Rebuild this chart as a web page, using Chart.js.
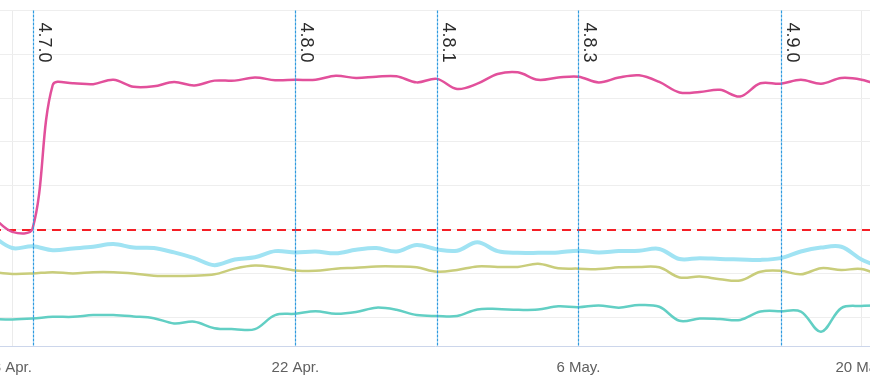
<!DOCTYPE html>
<html>
<head>
<meta charset="utf-8">
<script src="https://cdn.jsdelivr.net/npm/chart.js@4/dist/chart.umd.min.js"></script>
<style>
  html, body { margin: 0; padding: 0; background: #fff; overflow: hidden; }
  #wrap { position: absolute; left: -65px; top: 0; width: 1000px; height: 391px; }
</style>
</head>
<body>
<div id="wrap"><canvas id="chart"></canvas></div>
<script>
// dates (month-day), one point per day
const dates = [
  '04-07','04-08','04-09','04-10','04-11','04-12','04-13','04-14','04-15','04-16',
  '04-17','04-18','04-19','04-20','04-21','04-22','04-23','04-24','04-25','04-26',
  '04-27','04-28','04-29','04-30','05-01','05-02','05-03','05-04','05-05','05-06',
  '05-07','05-08','05-09','05-10','05-11','05-12','05-13','05-14','05-15','05-16',
  '05-17','05-18','05-19','05-20','05-21'
];

const pinkValues = [33.0, 29.5, 30.2, 63.0, 63.4, 63.2, 64.2, 62.6, 62.7, 63.7,
  62.9, 64.0, 64.0, 64.7, 64.1, 64.2, 64.2, 65.1, 64.6, 64.9,
  65.0, 63.6, 64.4, 62.1, 63.3, 65.5, 65.9, 64.2, 64.7, 64.9,
  63.6, 64.7, 65.2, 63.7, 61.3, 61.4, 61.9, 60.4, 63.4, 63.3,
  64.2, 63.3, 64.6, 64.2, 62.8];

const skyValues = [28.6, 25.8, 26.2, 25.3, 25.7, 26.1, 26.7, 25.9, 25.8, 24.8,
  23.5, 21.9, 23.2, 23.7, 25.1, 24.8, 25.0, 24.6, 25.4, 25.8,
  25.0, 26.5, 25.5, 25.2, 27.1, 25.1, 24.7, 24.7, 24.8, 25.2,
  24.8, 25.1, 25.2, 25.6, 23.3, 23.5, 23.3, 23.2, 23.1, 23.5,
  25.0, 25.9, 26.1, 23.2, 21.3];

const oliveValues = [20.3, 19.9, 20.0, 20.3, 20.0, 20.3, 20.3, 20.0, 19.5, 19.4,
  19.5, 19.8, 21.1, 21.8, 21.4, 20.7, 20.6, 21.1, 21.3, 21.6,
  21.6, 21.4, 20.4, 20.8, 21.6, 21.5, 21.5, 22.2, 21.2, 21.1,
  21.0, 21.4, 21.5, 21.4, 19.1, 19.3, 18.7, 18.4, 20.4, 20.6,
  19.8, 21.2, 20.8, 21.0, 19.4];

const tealValues = [9.6, 9.5, 9.7, 10.1, 10.1, 10.5, 10.5, 10.2, 9.8, 8.6,
  9.0, 7.5, 7.3, 7.3, 10.5, 10.8, 11.4, 10.8, 11.2, 12.2,
  11.7, 10.5, 10.3, 10.3, 11.8, 11.9, 11.7, 11.8, 12.5, 12.3,
  12.7, 12.2, 12.8, 12.4, 9.2, 9.7, 9.6, 9.4, 11.3, 11.4,
  11.3, 6.7, 12.1, 12.6, 12.7];

const threshold = 30;

// x axis ticks
const tickDates = ['04-08', '04-22', '05-06', '05-20'];
const tickLabels = ['8 Apr.', '22 Apr.', '6 May.', '20 May.'];

// release markers
const releaseDates = ['04-09', '04-22', '04-29', '05-06', '05-16'];
const releaseLabels = ['4.7.0', '4.8.0', '4.8.1', '4.8.3', '4.9.0'];

// day offset from 8 Apr
function dayOf(md) {
  const [m, d] = md.split('-').map(Number);
  return (Date.UTC(2019, m - 1, d) - Date.UTC(2019, 3, 8)) / 86400000;
}

const days = dates.map(dayOf);
const toPoints = vals => vals.map((v, i) => ({ x: days[i], y: v }));

const FONT = "'Liberation Sans', Arial, Helvetica, sans-serif";

const markersPlugin = {
  id: 'markers',
  beforeDatasetsDraw(chart) {
    const { ctx, chartArea, scales: { y } } = chart;
    const yy = Math.round(y.getPixelForValue(threshold));
    ctx.save();
    ctx.strokeStyle = '#f51f26';
    ctx.lineWidth = 2;
    ctx.setLineDash([9, 6]);
    ctx.lineDashOffset = 15 - ((72 - chartArea.left) % 15);
    ctx.beginPath();
    ctx.moveTo(chartArea.left, yy);
    ctx.lineTo(chartArea.right, yy);
    ctx.stroke();
    ctx.restore();
  },
  afterDatasetsDraw(chart) {
    const { ctx, chartArea, scales: { x } } = chart;
    ctx.save();
    releaseDates.forEach((md, i) => {
      const px = Math.round(x.getPixelForValue(dayOf(md))) + 0.5;
      ctx.strokeStyle = '#2f9be0';
      ctx.lineWidth = 1.2;
      ctx.setLineDash([3, 1]);
      ctx.beginPath();
      ctx.moveTo(px, chartArea.top);
      ctx.lineTo(px, chartArea.bottom);
      ctx.stroke();

      ctx.save();
      ctx.translate(px + 5, chartArea.top + 12);
      ctx.rotate(Math.PI / 2);
      ctx.fillStyle = '#2b2b2b';
      ctx.font = '18px ' + FONT;
      ctx.textAlign = 'left';
      ctx.textBaseline = 'alphabetic';
      ctx.fillText(releaseLabels[i], 0, 0);
      ctx.restore();
    });
    ctx.restore();
  }
};

const ctx = document.getElementById('chart').getContext('2d');
new Chart(ctx, {
  type: 'line',
  data: {
    datasets: [
      { data: toPoints(skyValues), borderColor: '#a0e3f3', borderWidth: 4 },
      { data: toPoints(oliveValues), borderColor: '#c9cd7b', borderWidth: 2.5 },
      { data: toPoints(tealValues), borderColor: '#62cfc4', borderWidth: 2.5 },
      { data: toPoints(pinkValues), borderColor: '#e2509b', borderWidth: 2.5 }
    ]
  },
  options: {
    responsive: true,
    maintainAspectRatio: false,
    animation: false,
    layout: { padding: { top: 10.5, left: 0, right: 0, bottom: 0 } },
    elements: {
      point: { radius: 0, hoverRadius: 0 },
      line: { tension: 0.35, fill: false, borderCapStyle: 'round', borderJoinStyle: 'round' }
    },
    plugins: { legend: { display: false }, tooltip: { enabled: false } },
    scales: {
      x: {
        type: 'linear',
        min: -3.823,
        max: 45.635,
        afterBuildTicks: s => { s.ticks = tickDates.map(md => ({ value: dayOf(md) })); },
        afterFit: s => { s.height = 45; },
        grid: { color: '#ebebeb', drawTicks: false },
        border: { color: '#ccd6eb', width: 1 },
        ticks: {
          padding: 13,
          color: '#606060',
          font: { family: FONT, size: 15 },
          maxRotation: 0,
          autoSkip: false,
          callback: v => tickLabels[tickDates.findIndex(md => dayOf(md) === v)]
        }
      },
      y: {
        min: 3.45,
        max: 80,
        afterBuildTicks: s => { s.ticks = [10, 20, 30, 40, 50, 60, 70, 80].map(v => ({ value: v })); },
        afterFit: s => { s.width = 0; },
        grid: { color: '#eeeeee', drawTicks: false },
        border: { display: false },
        ticks: { display: false }
      }
    }
  },
  plugins: [markersPlugin]
});
</script>
</body>
</html>
